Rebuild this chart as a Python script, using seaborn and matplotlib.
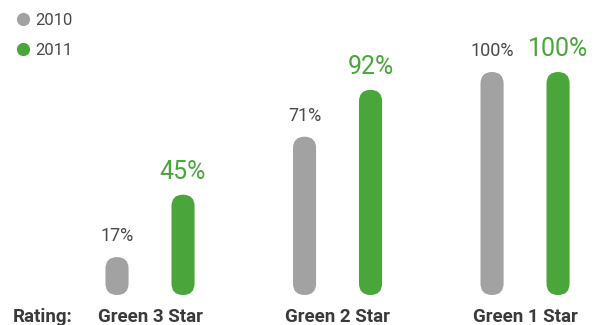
import matplotlib
matplotlib.use("Agg")
import matplotlib.pyplot as plt
from matplotlib.patches import FancyBboxPatch
from matplotlib.lines import Line2D
import seaborn as sns
import pandas as pd

categories = ["Green 3 Star", "Green 2 Star", "Green 1 Star"]
years = ["2010", "2011"]
values_2010 = [17, 71, 100]
values_2011 = [45, 92, 100]
row_label = "Rating:"

GRAY = "#a2a2a2"
GREEN = "#4aa63a"
TEXT_DARK = "#4a4a4a"

sns.set_theme(style="white")
plt.rcParams["font.family"] = ["Roboto", "DejaVu Sans"]

df = pd.DataFrame({
    "category": categories * 2,
    "year": [years[0]] * 3 + [years[1]] * 3,
    "value": values_2010 + values_2011,
})

fig = plt.figure(figsize=(5.98, 3.25), dpi=100)
ax = fig.add_axes([0, 0, 1, 1])

sns.barplot(data=df, x="category", y="value", hue="year",
            palette={years[0]: GRAY, years[1]: GREEN},
            width=0.704, gap=0.65, legend=False, ax=ax,
            errorbar=None, saturation=1)

ax.set_xlim(-0.8, 2.389)
ax.set_ylim(-13.45, 132.3)
ax.axis("off")

# pixel scales for rounded caps
fig.canvas.draw()
p0 = ax.transData.transform((0, 0))
p1 = ax.transData.transform((1, 1))
sx = p1[0] - p0[0]
sy = p1[1] - p0[1]
aspect = sx / sy

bars = list(ax.patches)
for b in bars:
    x, y = b.get_x(), b.get_y()
    w, h = b.get_width(), b.get_height()
    fc = b.get_facecolor()
    b.remove()
    r = w / 2
    fp = FancyBboxPatch((x, y), w, h,
                        boxstyle=f"round,pad=0,rounding_size={r}",
                        mutation_aspect=aspect,
                        facecolor=fc, edgecolor="none")
    ax.add_patch(fp)

off = 0.176
for i, cat in enumerate(categories):
    v0 = values_2010[i]
    v1 = values_2011[i]
    ax.annotate(f"{v0}%", (i - off, v0), xytext=(0, 11.5),
                textcoords="offset points", ha="center", va="baseline",
                fontsize=13, color=TEXT_DARK)
    ax.annotate(f"{v1}%", (i + off, v1), xytext=(0, 11.5),
                textcoords="offset points", ha="center", va="baseline",
                fontsize=18, color=GREEN)
    ax.text(i, -12.0, cat, ha="center", va="baseline",
            fontsize=13.5, fontweight="bold", color="#3a3a3a")

ax.text(-0.731, -12.0, row_label, ha="left", va="baseline",
        fontsize=13.5, fontweight="bold", color="#3a3a3a")

handles = [Line2D([], [], marker="o", linestyle="none", markersize=9.5,
                  markerfacecolor=c, markeredgecolor="none")
           for c in (GRAY, GREEN)]
leg = ax.legend(handles, years, loc="upper left", bbox_to_anchor=(0.0, 1.0),
                frameon=False, fontsize=12, handletextpad=0.05,
                labelspacing=0.92, borderaxespad=0.45, handlelength=1.3,
                borderpad=0.3)
for t in leg.get_texts():
    t.set_color(TEXT_DARK)

fig.savefig("out.png", dpi=100)
